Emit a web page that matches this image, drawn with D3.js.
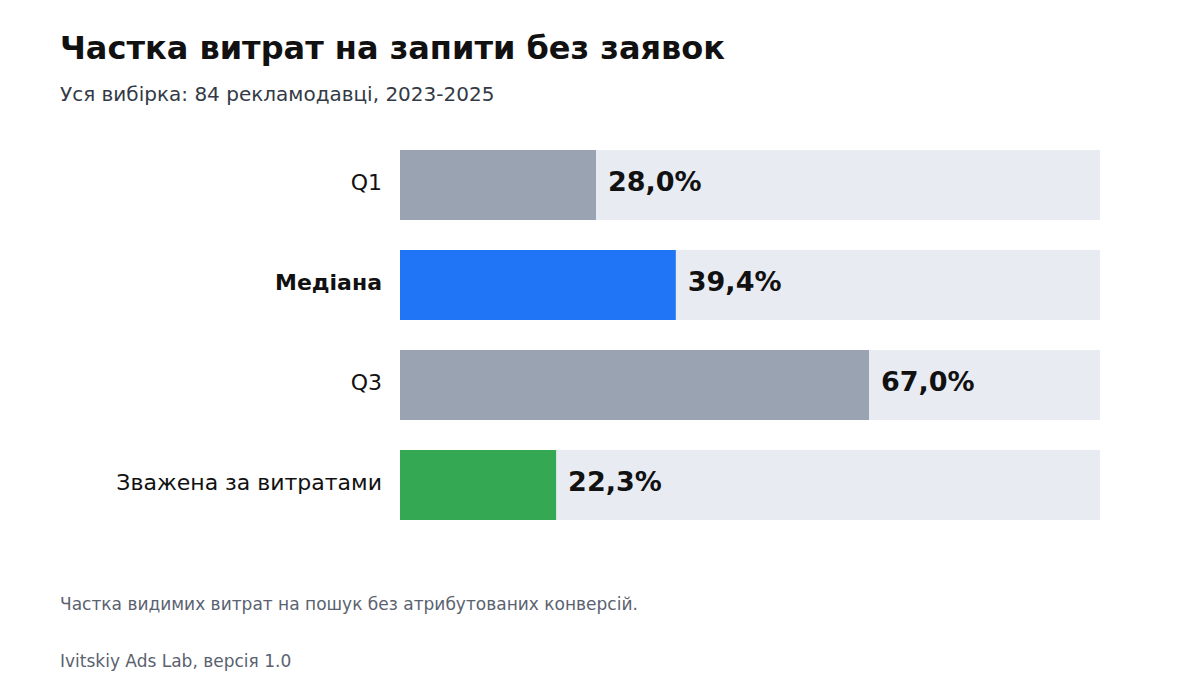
<!DOCTYPE html>
<html>
<head>
<meta charset="utf-8">
<script src="https://cdn.jsdelivr.net/npm/d3@7"></script>
<style>
  body { margin: 0; background: #fff; }
  svg { display: block; font-family: "DejaVu Sans", sans-serif; }
</style>
</head>
<body>
<div id="chart"></div>
<script>
const categories = ["Q1", "Медіана", "Q3", "Зважена за витратами"];
const values = [28.0, 39.4, 67.0, 22.3];
const barColors = ["#9aa3b2", "#1f75f6", "#9aa3b2", "#34a853"];
const boldLabel = [false, true, false, false];

const width = 1200;
const height = 700;
const margin = {left: 400, right: 100, top: 150, bottom: 180};

const svg = d3.select("#chart")
    .append("svg")
    .attr("width", width)
    .attr("height", height);

const x = d3.scaleLinear()
    .domain([0, 100])
    .range([margin.left, width - margin.right]);

const y = d3.scaleBand()
    .domain(categories)
    .range([margin.top, height - margin.bottom])
    .paddingInner(0.3)
    .paddingOuter(0);

const rows = categories.map((c, i) => ({cat: c, value: values[i], color: barColors[i], bold: boldLabel[i]}));

// title block
svg.append("text")
    .attr("x", 60).attr("y", 59)
    .attr("font-size", 32).attr("font-weight", "bold")
    .attr("fill", "#111")
    .text("Частка витрат на запити без заявок");

svg.append("text")
    .attr("x", 60).attr("y", 101)
    .attr("font-size", 20)
    .attr("fill", "#333a45")
    .text("Уся вибірка: 84 рекламодавці, 2023-2025");

// background tracks
svg.append("g")
    .selectAll("rect")
    .data(rows)
    .join("rect")
    .attr("x", x(0))
    .attr("y", d => y(d.cat))
    .attr("width", x(100) - x(0))
    .attr("height", y.bandwidth())
    .attr("fill", "#e8ebf2");

svg.append("g")
    .selectAll("rect")
    .data(rows)
    .join("rect")
    .attr("x", x(0))
    .attr("y", d => y(d.cat))
    .attr("width", d => x(d.value) - x(0))
    .attr("height", y.bandwidth())
    .attr("fill", d => d.color);

// category labels
svg.append("g")
    .selectAll("text")
    .data(rows)
    .join("text")
    .attr("x", x(0) - 18)
    .attr("y", d => y(d.cat) + y.bandwidth() / 2)
    .attr("dy", "0.22em")
    .attr("text-anchor", "end")
    .attr("font-size", 22)
    .attr("font-weight", d => d.bold ? "bold" : "normal")
    .attr("fill", "#111")
    .text(d => d.cat);

// value labels
svg.append("g")
    .selectAll("text")
    .data(rows)
    .join("text")
    .attr("x", d => x(d.value) + 12)
    .attr("y", d => y(d.cat) + y.bandwidth() / 2)
    .attr("dy", "0.24em")
    .attr("font-size", 27)
    .attr("font-weight", "bold")
    .attr("fill", "#111")
    .text(d => d.value.toFixed(1).replace(".", ",") + "%");

svg.append("text")
    .attr("x", 60).attr("y", 610)
    .attr("font-size", 17)
    .attr("fill", "#5a6270")
    .text("Частка видимих витрат на пошук без атрибутованих конверсій.");

svg.append("text")
    .attr("x", 60).attr("y", 667)
    .attr("font-size", 17)
    .attr("fill", "#5a6270")
    .text("Ivitskiy Ads Lab, версія 1.0");
</script>
</body>
</html>
